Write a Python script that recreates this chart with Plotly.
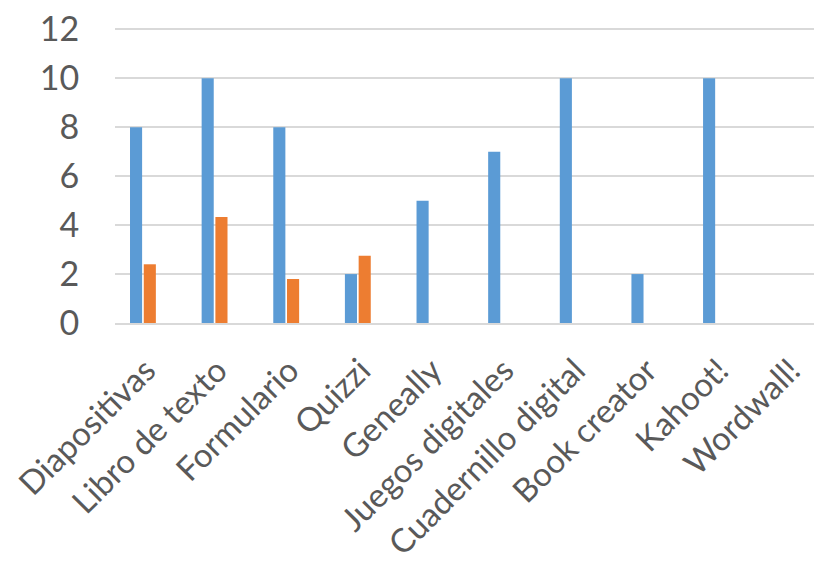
import plotly.graph_objects as go

categories = ["Diapositivas", "Libro de texto", "Formulario", "Quizzi", "Geneally",
              "Juegos digitales", "Cuadernillo digital", "Book creator", "Kahoot!", "Wordwall!"]
serie1 = [8, 10, 8, 2, 5, 7, 10, 2, 10, 0]
serie2 = [2.4, 4.33, 1.8, 2.75, 0, 0, 0, 0, 0, 0]
y_ticks = [0, 2, 4, 6, 8, 10, 12]

TXT = "#595959"
GRID = "#d9d9d9"
FONT = "Lato"

fig = go.Figure()
fig.add_trace(go.Bar(x=categories, y=serie1, name="Serie 1", marker_color="#5B9BD5",
                     marker_line_width=0))
fig.add_trace(go.Bar(x=categories, y=serie2, name="Serie 2", marker_color="#ED7D31",
                     marker_line_width=0))

fig.update_layout(
    width=822, height=573,
    margin=dict(l=107, r=8, t=19, b=258),
    paper_bgcolor="white", plot_bgcolor="white",
    showlegend=False,
    bargap=0.616, bargroupgap=0.12,
    font=dict(family=FONT, color=TXT),
    xaxis=dict(type="category", range=[-0.39, 9.48], automargin=False,
               showline=True, linecolor=GRID, linewidth=2, showgrid=False,
               ticks="", zeroline=False, ticklabeloverflow="allow",
               tickangle=-45, ticklabelshift=3, ticklabelstandoff=13,
               tickfont=dict(size=33, color=TXT, family=FONT)),
    yaxis=dict(range=[0, 12.1], tickvals=y_ticks, showgrid=True, gridcolor=GRID,
               gridwidth=2, zeroline=False, showline=False, automargin=False,
               ticklabeloverflow="allow",
               ticks="outside", ticklen=28, tickcolor="rgba(0,0,0,0)",
               tickfont=dict(size=34, color=TXT, family=FONT)),
)

fig.write_html("out.html")
